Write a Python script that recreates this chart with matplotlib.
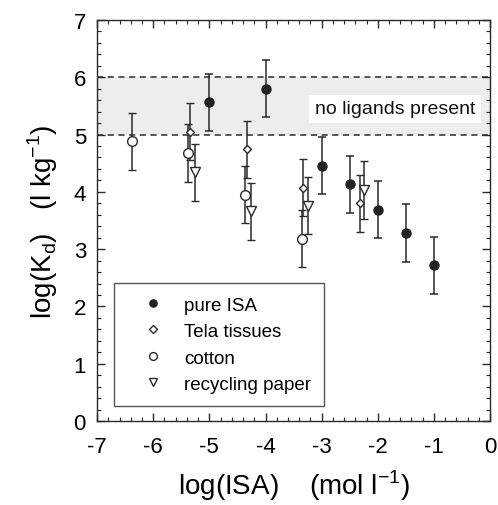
import matplotlib
matplotlib.use('Agg')
import matplotlib.pyplot as plt
import numpy as np
from matplotlib.ticker import MultipleLocator

plt.rcParams['font.family'] = ['Liberation Sans', 'DejaVu Sans']
plt.rcParams['axes.unicode_minus'] = False

# pure ISA (filled circles)
isa_x = [-5.0, -4.0, -3.0, -2.5, -2.0, -1.5, -1.0]
isa_y = [5.56, 5.80, 4.46, 4.13, 3.69, 3.28, 2.72]
isa_e = [0.5, 0.5, 0.5, 0.5, 0.5, 0.5, 0.5]

# Tela tissues (open diamonds)
tela_x = [-5.35, -4.33, -3.33, -2.32]
tela_y = [5.05, 4.74, 4.07, 3.80]
tela_e = [0.5, 0.5, 0.5, 0.5]

# cotton (open circles)
cot_x = [-6.37, -5.38, -4.36, -3.35]
cot_y = [4.88, 4.68, 3.95, 3.18]
cot_e = [0.5, 0.5, 0.5, 0.5]

# recycling paper (open down triangles)
rec_x = [-5.25, -4.25, -3.25, -2.24]
rec_y = [4.34, 3.66, 3.76, 4.03]
rec_e = [0.5, 0.5, 0.5, 0.5]

band_lo, band_hi = 5.0, 6.0

ink = '#2a2a2a'

fig = plt.figure(figsize=(4.98, 5.06), dpi=100)
ax = fig.add_axes([0.195, 0.166, 0.789, 0.7925])

ax.axhspan(band_lo, band_hi, color='#ededed', zorder=0, lw=0)
ax.axhline(band_lo, color=ink, ls=(0, (4, 3)), lw=1.1, zorder=1)
ax.axhline(band_hi, color=ink, ls=(0, (4, 3)), lw=1.1, zorder=1)
ax.text(-1.69, 5.45, 'no ligands present', ha='center', va='center', fontsize=14,
        color='#111111', bbox=dict(facecolor='white', edgecolor='none', pad=4), zorder=2)

eb = dict(ecolor=ink, elinewidth=1.1, capsize=2.8, capthick=1.1, ls='none', zorder=3)
ax.errorbar(isa_x, isa_y, yerr=isa_e, fmt='o', ms=6.5, mfc='#222222', mec='#222222',
            label='pure ISA', **eb)
ax.errorbar(tela_x, tela_y, yerr=tela_e, fmt='D', ms=4.5, mfc='white', mec=ink, mew=1.0,
            label='Tela tissues', **eb)
ax.errorbar(cot_x, cot_y, yerr=cot_e, fmt='o', ms=7, mfc='white', mec=ink, mew=1.0,
            label='cotton', **eb)
ax.errorbar(rec_x, rec_y, yerr=rec_e, fmt='v', ms=7, mfc='white', mec=ink, mew=1.0,
            label='recycling paper', **eb)

ax.set_xlim(-7, 0)
ax.set_ylim(0, 7)
ax.xaxis.set_major_locator(MultipleLocator(1))
ax.xaxis.set_minor_locator(MultipleLocator(0.2))
ax.yaxis.set_major_locator(MultipleLocator(1))
ax.yaxis.set_minor_locator(MultipleLocator(0.2))
ax.tick_params(which='both', direction='in', top=True, right=True, color=ink)
ax.tick_params(which='major', length=6, width=1)
ax.tick_params(which='minor', length=3, width=0.8)
ax.tick_params(axis='x', labelsize=16, pad=11)
ax.tick_params(axis='y', labelsize=16, pad=8)
for s in ax.spines.values():
    s.set_color(ink)
    s.set_linewidth(1.0)

ax.set_xlabel(r'log(ISA)    (mol l$^{\mathregular{-1}}$)', fontsize=20, labelpad=7)
ax.set_ylabel(r'log(K$_{\mathregular{d}}$)   (l kg$^{\mathregular{-1}}$)', fontsize=20, labelpad=10)

handles, labels = ax.get_legend_handles_labels()
handles = [h[0] for h in handles]
leg = ax.legend(handles, labels, loc='lower left', bbox_to_anchor=(0.043, 0.037),
                fontsize=13.5, frameon=True, fancybox=False, edgecolor=ink,
                handlelength=2.8, handletextpad=0.25, borderpad=0.7, labelspacing=0.5,
                markerscale=0.8, borderaxespad=0)
leg.get_frame().set_linewidth(1.0)

fig.savefig('out.png', dpi=100)
